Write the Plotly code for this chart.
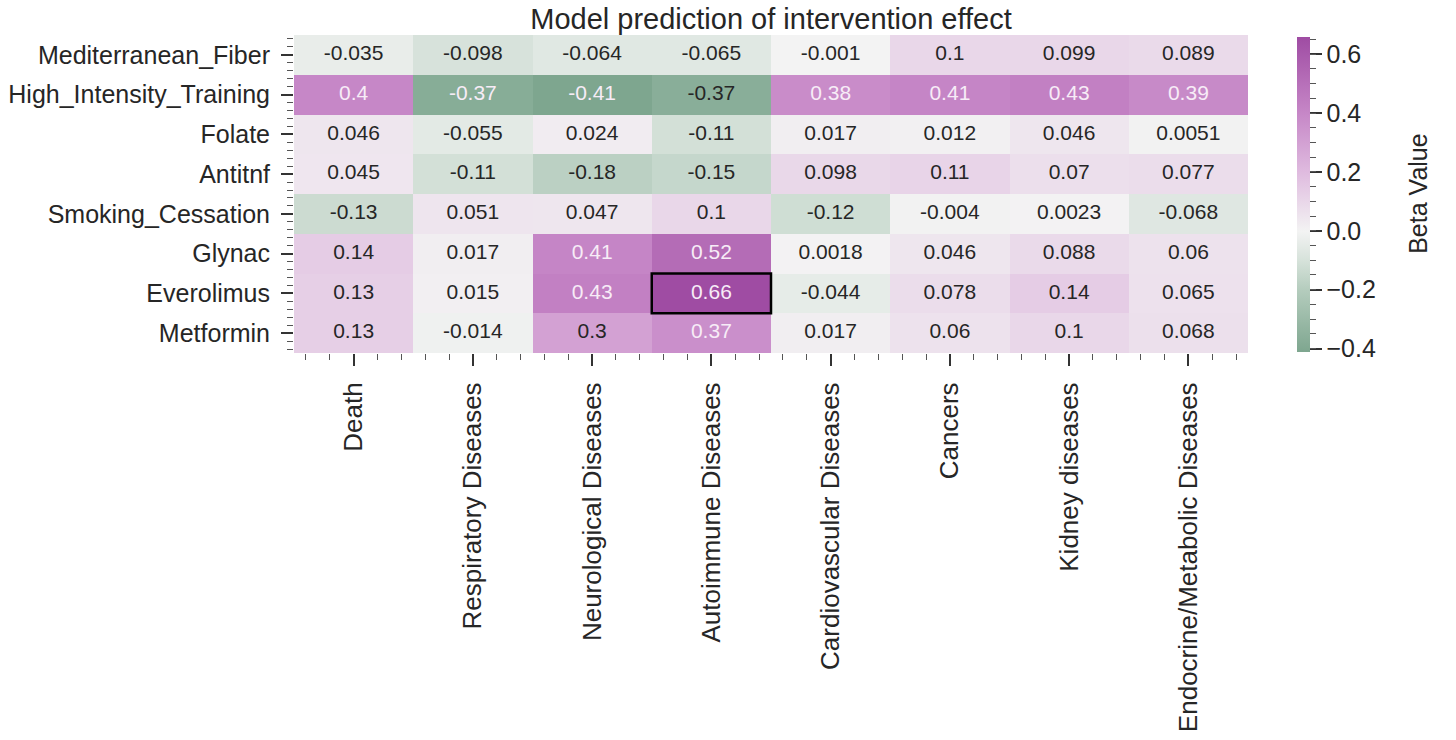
import plotly.graph_objects as go

# ---------------- data ----------------
interventions = ["Mediterranean_Fiber", "High_Intensity_Training", "Folate", "Antitnf",
                 "Smoking_Cessation", "Glynac", "Everolimus", "Metformin"]
outcomes = ["Death", "Respiratory Diseases", "Neurological Diseases", "Autoimmune Diseases",
            "Cardiovascular Diseases", "Cancers", "Kidney diseases", "Endocrine/Metabolic Diseases"]

mediterranean_fiber = [-0.035, -0.098, -0.064, -0.065, -0.001, 0.1, 0.099, 0.089]
high_intensity_training = [0.4, -0.374, -0.41, -0.366, 0.38, 0.41, 0.43, 0.39]
folate = [0.046, -0.055, 0.024, -0.11, 0.017, 0.012, 0.046, 0.0051]
antitnf = [0.045, -0.11, -0.18, -0.15, 0.098, 0.11, 0.07, 0.077]
smoking_cessation = [-0.13, 0.051, 0.047, 0.1, -0.12, -0.004, 0.0023, -0.068]
glynac = [0.14, 0.017, 0.41, 0.52, 0.0018, 0.046, 0.088, 0.06]
everolimus = [0.13, 0.015, 0.43, 0.66, -0.044, 0.078, 0.14, 0.065]
metformin = [0.13, -0.014, 0.3, 0.37, 0.017, 0.06, 0.1, 0.068]

colorbar_major_ticks = [-0.4, -0.2, 0.0, 0.2, 0.4, 0.6]
colorbar_tick_labels = ["\u22120.4", "\u22120.2", "0.0", "0.2", "0.4", "0.6"]

highlight_row = "Everolimus"
highlight_col = "Autoimmune Diseases"

# colour stops (value -> colour) of the diverging map
cmap_values = [-0.41, -0.2, -0.1, 0.0, 0.1, 0.2, 0.4, 0.66]
cmap_colors = ["#7ea68f", "#b4ccbd", "#d6e2da", "#f3f3f3", "#e9d7e9", "#dfbbdf", "#c687c7", "#9f4ca3"]

# ---------------- figure ----------------
z = [mediterranean_fiber, high_intensity_training, folate, antitnf,
     smoking_cessation, glynac, everolimus, metformin]

zmin = min(min(r) for r in z)
zmax = max(max(r) for r in z)
colorscale = [[(v - zmin) / (zmax - zmin), c] for v, c in zip(cmap_values, cmap_colors)]
colorscale[0][0] = 0.0
colorscale[-1][0] = 1.0

xs = list(range(len(outcomes)))
ys = list(range(len(interventions)))

FONT = "Liberation Sans, Arial, sans-serif"
DARK = "#262626"
W, H = 1456, 740   # body margin removed by post_script

cb_common = dict(x=1.0514, xanchor="left", xpad=0, y=0.5, yanchor="middle", ypad=0,
                 len=0.99, lenmode="fraction", thickness=13, outlinewidth=0)

fig = go.Figure()

fig.add_trace(go.Heatmap(
    z=z, x=xs, y=ys, zmin=zmin, zmax=zmax,
    colorscale=colorscale, hoverinfo="skip",
    colorbar=dict(
        **cb_common,
        tickmode="array", tickvals=colorbar_major_ticks, ticktext=colorbar_tick_labels,
        ticks="outside", ticklen=12, tickwidth=1.6, tickcolor="#333333",
        tickfont=dict(family=FONT, size=25, color=DARK),
    ),
))

# duplicate colorbar carrying only the minor ticks
fig.add_trace(go.Heatmap(
    z=z, x=[x + 100 for x in xs], y=ys, zmin=zmin, zmax=zmax,
    colorscale=colorscale, hoverinfo="skip",
    colorbar=dict(
        **cb_common,
        tickmode="linear", tick0=-0.4, dtick=0.05,
        ticks="outside", ticklen=6, tickwidth=1.2, tickcolor="#555555",
        showticklabels=False,
    ),
))

# cell annotations
tx, ty, tt, tc = [], [], [], []
for i, row in enumerate(z):
    for j, v in enumerate(row):
        tx.append(j)
        ty.append(i)
        tt.append("{:.2g}".format(v))
        tc.append("#f7ecf7" if (v > 0.33 or v < -0.37) else DARK)

fig.add_trace(go.Scatter(
    x=tx, y=ty, text=tt, mode="text", hoverinfo="skip", showlegend=False,
    textfont=dict(family=FONT, size=21, color=tc),
))

ri = interventions.index(highlight_row)
ci = outcomes.index(highlight_col)
fig.add_shape(type="rect", xref="x", yref="y",
              x0=ci - 0.5, x1=ci + 0.5, y0=ri - 0.5, y1=ri + 0.5,
              line=dict(color="black", width=2.5), fillcolor="rgba(0,0,0,0)")

fig.add_annotation(text="Beta Value", xref="paper", yref="paper",
                   x=1.178, y=0.5, xanchor="center", yanchor="middle",
                   textangle=-90, showarrow=False,
                   font=dict(family=FONT, size=25, color=DARK))

fig.update_layout(
    width=W, height=H,
    margin=dict(l=294, r=208, t=35, b=387, autoexpand=False),
    paper_bgcolor="white", plot_bgcolor="white",
    font=dict(family=FONT, color=DARK),
    title=dict(text="Model prediction of intervention effect",
               x=0.5, xref="paper", y=1 - 19 / H, yref="container",
               xanchor="center", yanchor="middle",
               font=dict(family=FONT, size=29, color=DARK)),
    showlegend=False,
)

fig.update_xaxes(
    range=[-0.5, len(outcomes) - 0.5], tickmode="array", tickvals=xs, ticktext=outcomes,
    tickangle=-90, ticks="outside", ticklen=12, tickwidth=1.6, tickcolor="#333333",
    ticklabelstandoff=6, automargin=False,
    tickfont=dict(family=FONT, size=26, color=DARK),
    showgrid=False, zeroline=False, showline=False,
    minor=dict(tickmode="linear", tick0=0, dtick=0.2, ticks="outside",
               ticklen=6, tickwidth=1.2, tickcolor="#555555", showgrid=False),
)
fig.update_yaxes(
    range=[len(interventions) - 0.5, -0.5], tickmode="array", tickvals=ys, ticktext=interventions,
    ticks="outside", ticklen=12, tickwidth=1.6, tickcolor="#333333",
    ticklabelstandoff=6, automargin=False,
    tickfont=dict(family=FONT, size=25, color=DARK),
    showgrid=False, zeroline=False, showline=False,
    minor=dict(tickmode="linear", tick0=0, dtick=0.2, ticks="outside",
               ticklen=6, tickwidth=1.2, tickcolor="#555555", showgrid=False),
)

fig.write_html(
    "out.html",
    config={"displayModeBar": False},
    post_script="document.body.style.margin='0';document.body.style.overflow='hidden';",
)
